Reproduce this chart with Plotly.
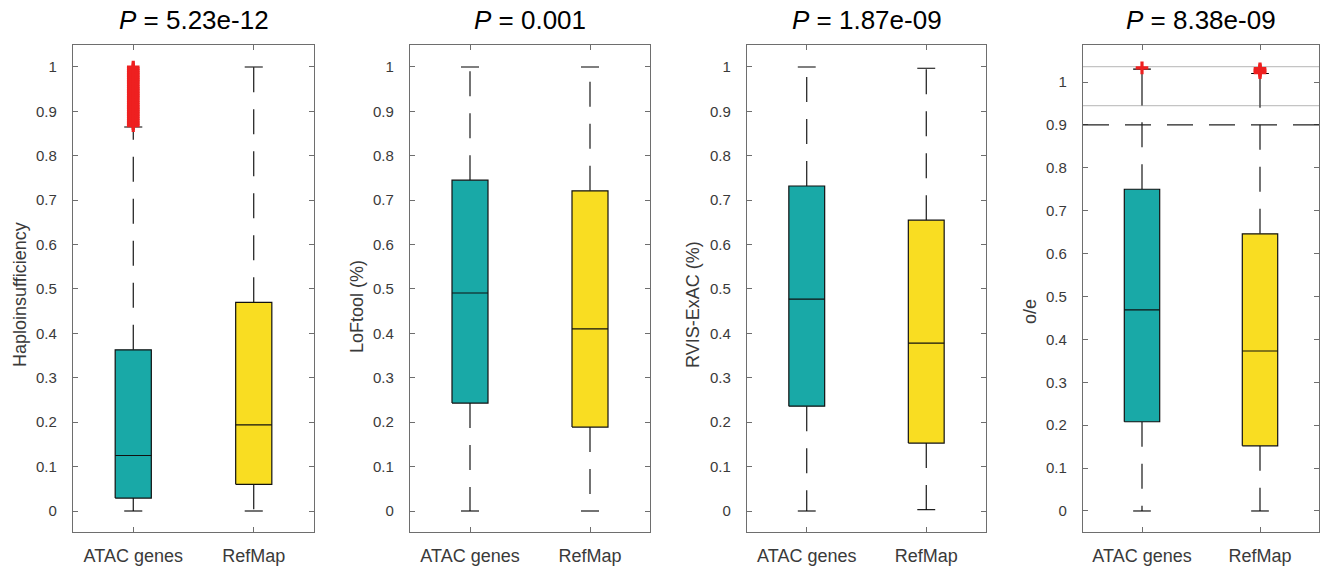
import plotly.graph_objects as go

W, H = 1325, 567

# ---------------- data ----------------
categories = ["ATAC genes", "RefMap"]
p_values = ["5.23e-12", "0.001", "1.87e-09", "8.38e-09"]
ylabels = ["Haploinsufficiency", "LoFtool (%)", "RVIS-ExAC (%)", "o/e"]
ytick_vals = [0, 0.1, 0.2, 0.3, 0.4, 0.5, 0.6, 0.7, 0.8, 0.9, 1.0]
ytick_text = ["0", "0.1", "0.2", "0.3", "0.4", "0.5", "0.6", "0.7", "0.8", "0.9", "1"]

# Haploinsufficiency  [ATAC genes, RefMap]
hapl_q1 = [0.029, 0.060]
hapl_med = [0.125, 0.194]
hapl_q3 = [0.363, 0.470]
hapl_lo = [0.0, 0.0]
hapl_hi = [0.865, 1.0]
hapl_out_atac = [0.868, 0.872, 0.876, 0.880, 0.884, 0.888, 0.892, 0.896, 0.900, 0.904,
                 0.908, 0.912, 0.916, 0.920, 0.924, 0.928, 0.932, 0.936, 0.940, 0.944,
                 0.948, 0.952, 0.956, 0.960, 0.964, 0.968, 0.972, 0.976, 0.980, 0.984,
                 0.988, 0.992, 0.996, 1.0]
hapl_out_ref = []

# LoFtool
lof_q1 = [0.243, 0.189]
lof_med = [0.491, 0.410]
lof_q3 = [0.745, 0.721]
lof_lo = [0.0, 0.0]
lof_hi = [1.0, 1.0]

# RVIS-ExAC
rvis_q1 = [0.236, 0.153]
rvis_med = [0.477, 0.378]
rvis_q3 = [0.732, 0.655]
rvis_lo = [0.0, 0.003]
rvis_hi = [1.0, 0.997]

# o/e (broken axis)
oe_q1 = [0.208, 0.152]
oe_med = [0.469, 0.373]
oe_q3 = [0.750, 0.646]
oe_lo = [0.0, 0.0]
oe_hi = [1.030, 1.020]
oe_out_atac = [1.033]
oe_out_ref = [1.022, 1.025, 1.028, 1.031]
oe_dash_level = 0.9
oe_break = [0.945, 1.036]

colors = ["#19A9A7", "#F9DD22"]
out_color = "#EE2020"

# ---------------- layout geometry ----------------
x_px = [(73, 314), (410, 650), (747, 986), (1083, 1319)]
y_px = (44.7, 532)
ydom = [1 - y_px[1] / H, 1 - y_px[0] / H]
yranges = [[-0.0473, 1.0502]] * 3 + [[-0.049, 1.087]]
ylab_x = [20, 357, 693, 1030]
ylab_y = [295, 307, 305, 312]

FONT = "Liberation Sans, Arial, Helvetica, sans-serif"
AXC = "#6e6e6e"
TXC = "#3a3a3a"
BW = 0.15
CW = 0.075
DASH = "25px,17px"

fig = go.Figure()

panels = [
    (hapl_q1, hapl_med, hapl_q3, hapl_lo, hapl_hi, [hapl_out_atac, hapl_out_ref]),
    (lof_q1, lof_med, lof_q3, lof_lo, lof_hi, [[], []]),
    (rvis_q1, rvis_med, rvis_q3, rvis_lo, rvis_hi, [[], []]),
    (oe_q1, oe_med, oe_q3, oe_lo, oe_hi, [oe_out_atac, oe_out_ref]),
]


def add_line(xs, ys, xa, ya, dash="solid", color="#000", width=1.1):
    fig.add_trace(go.Scatter(x=xs, y=ys, mode="lines", xaxis=xa, yaxis=ya,
                             line=dict(color=color, width=width, dash=dash),
                             showlegend=False, hoverinfo="skip"))


for pi, (q1, med, q3, lo, hi, outs) in enumerate(panels):
    xa = "x" if pi == 0 else f"x{pi+1}"
    ya = "y" if pi == 0 else f"y{pi+1}"
    for ci in range(2):
        c = ci + 1
        # lower whisker (dashed from box)
        add_line([c, c], [q1[ci], lo[ci]], xa, ya, dash=DASH)
        # upper whisker
        if pi == 3:
            add_line([c, c], [q3[ci], oe_break[0]], xa, ya, dash=DASH)
            add_line([c, c], [oe_break[0], hi[ci]], xa, ya)
        else:
            add_line([c, c], [q3[ci], hi[ci]], xa, ya, dash=DASH)
        # caps
        add_line([c - CW, c + CW], [lo[ci], lo[ci]], xa, ya)
        add_line([c - CW, c + CW], [hi[ci], hi[ci]], xa, ya)
        # box
        fig.add_trace(go.Scatter(
            x=[c - BW, c + BW, c + BW, c - BW, c - BW],
            y=[q1[ci], q1[ci], q3[ci], q3[ci], q1[ci]],
            mode="lines", fill="toself", fillcolor=colors[ci],
            line=dict(color="#111", width=1.2), xaxis=xa, yaxis=ya,
            showlegend=False, hoverinfo="skip"))
        # median
        add_line([c - BW, c + BW], [med[ci], med[ci]], xa, ya, color="#111", width=1.2)
        # outliers
        if outs[ci]:
            fig.add_trace(go.Scatter(
                x=[c] * len(outs[ci]), y=outs[ci], mode="markers", xaxis=xa, yaxis=ya,
                marker=dict(symbol="cross-thin", size=9,
                            line=dict(color=out_color, width=3.2)),
                showlegend=False, hoverinfo="skip"))

layout = dict(
    width=W, height=H,
    margin=dict(l=0, r=0, t=0, b=0),
    paper_bgcolor="white", plot_bgcolor="white",
    font=dict(family=FONT, color=TXC),
    showlegend=False,
)

annotations = []
shapes = []
for pi in range(4):
    sx = "" if pi == 0 else str(pi + 1)
    xdom = [x_px[pi][0] / W, x_px[pi][1] / W]
    layout["xaxis" + sx] = dict(
        domain=xdom, range=[0.5, 2.5], anchor="y" + sx,
        tickvals=[1, 2], ticktext=categories,
        ticks="inside", ticklen=5, tickcolor=AXC, tickwidth=1,
        showline=True, linecolor=AXC, linewidth=1.3, mirror="ticks",
        showgrid=False, zeroline=False, fixedrange=True,
        tickfont=dict(size=18, color=TXC, family=FONT),
        ticklabelstandoff=7,
    )
    layout["yaxis" + sx] = dict(
        domain=ydom, range=yranges[pi], anchor="x" + sx,
        tickvals=ytick_vals, ticktext=ytick_text,
        ticks="inside", ticklen=5, tickcolor=AXC, tickwidth=1,
        showline=True, linecolor=AXC, linewidth=1.3, mirror="ticks",
        showgrid=False, zeroline=False, fixedrange=True,
        tickfont=dict(size=15, color=TXC, family=FONT),
        ticklabelstandoff=12,
    )
    annotations.append(dict(
        text=f"<i>P</i> = {p_values[pi]}", x=(xdom[0] + xdom[1]) / 2, y=1 - 20 / H,
        xref="paper", yref="paper", xanchor="center", yanchor="middle",
        showarrow=False, font=dict(size=26, color="#000", family=FONT)))
    annotations.append(dict(
        text=ylabels[pi], x=ylab_x[pi] / W, y=1 - ylab_y[pi] / H,
        xref="paper", yref="paper", xanchor="center", yanchor="middle",
        textangle=-90, showarrow=False,
        font=dict(size=18, color=TXC, family=FONT)))

# broken-axis markers of the o/e panel
for yb in oe_break:
    shapes.append(dict(type="line", xref="x4 domain", yref="y4", x0=0, x1=1, y0=yb, y1=yb,
                       line=dict(color="#c4c4c4", width=1.4), layer="below"))
shapes.append(dict(type="line", xref="x4 domain", yref="y4", x0=0, x1=1,
                   y0=oe_dash_level, y1=oe_dash_level,
                   line=dict(color="#222", width=1.2, dash="26px,16px")))

layout["annotations"] = annotations
layout["shapes"] = shapes
fig.update_layout(**layout)

fig.write_html("out.html")
